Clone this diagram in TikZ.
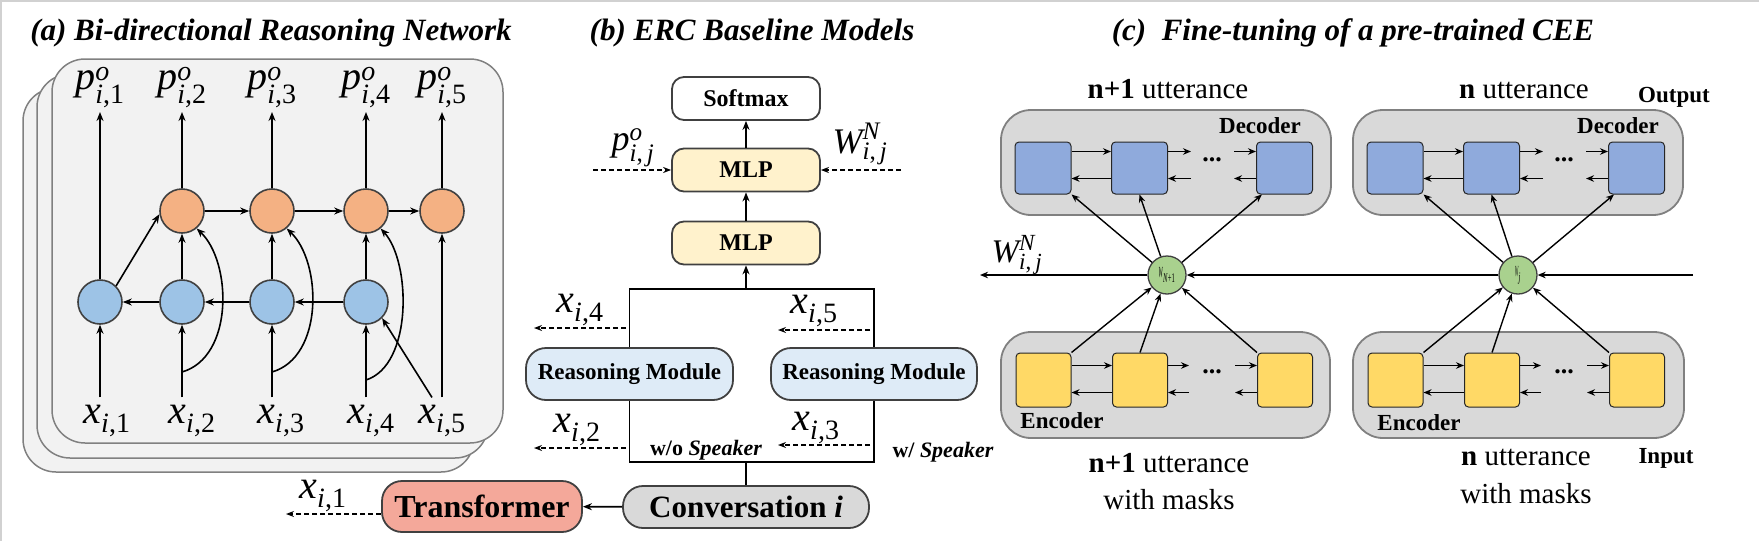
\documentclass[tikz,border=0pt]{standalone}
\usepackage{amsmath}
\usepackage{fontspec}
\setmainfont{Liberation Serif}
\newfontfamily\tnr{Liberation Serif}
\usetikzlibrary{arrows.meta,calc}
\definecolor{stackfill}{HTML}{F2F2F2}
\definecolor{stackline}{HTML}{808080}
\definecolor{bluec}{HTML}{9DC3E6}
\definecolor{orangec}{HTML}{F4B183}
\definecolor{darkline}{HTML}{404040}
\definecolor{mlpc}{HTML}{FFF2CC}
\definecolor{rmc}{HTML}{DEEBF7}
\definecolor{transc}{HTML}{F4A89A}
\definecolor{convc}{HTML}{D9D9D9}
\definecolor{panelc}{HTML}{D9D9D9}
\definecolor{sqblue}{HTML}{8FAADC}
\definecolor{sqyellow}{HTML}{FFD966}
\definecolor{greenc}{HTML}{A9D18E}
\newcommand{\fsz}[1]{\tnr\fontsize{#1}{#1}\selectfont}
\newcommand{\xs}[1]{$\textit{x}_{\textit{i}\textup{,#1}}$}
\newcommand{\ps}[1]{$\textit{p}^{\textit{o}}_{\textit{i}\textup{,#1}}$}
\begin{document}
\begin{tikzpicture}[x=1pt,y=-1pt,
  arr/.style={-{Stealth[length=9pt,width=7pt]}, line width=1.6pt},
  carr/.style={-{Stealth[length=8pt,width=6.5pt]}, line width=1.4pt},
  darr/.style={-{Stealth[length=8pt,width=6pt]}, line width=1.4pt, dash pattern=on 5pt off 3pt},
  stackbox/.style={fill=stackfill, draw=stackline, line width=1.5pt, rounded corners=33pt},
  bcirc/.style={circle, fill=bluec, draw=darkline, line width=1.6pt, minimum size=44pt, inner sep=0pt},
  ocirc/.style={circle, fill=orangec, draw=darkline, line width=1.6pt, minimum size=44pt, inner sep=0pt},
  lab/.style={inner sep=0pt, anchor=base},
  xlab/.style={anchor=base, inner xsep=0pt, inner ysep=7pt, font=\fsz{40}},
  plab/.style={anchor=south, inner xsep=0pt, inner ysep=4pt, font=\fsz{40}},
  bbox/.style={draw=darkline, line width=1.8pt, rounded corners=12pt, minimum width=148pt, minimum height=43pt, inner sep=0pt, font=\bfseries\fsz{24}},
  rmbox/.style={draw=darkline, fill=rmc, line width=1.8pt, rounded corners=20pt, minimum height=52pt, inner sep=0pt, font=\bfseries\fsz{23}},
  bigbox/.style={draw=darkline, line width=1.8pt, rounded corners=20pt, inner sep=0pt},
  panel/.style={draw=stackline, fill=panelc, line width=1.8pt, rounded corners=30pt},
  bsq/.style={draw=black!85, fill=sqblue, line width=1pt, rounded corners=4pt, minimum width=56pt, minimum height=52pt, inner sep=0pt},
  ysq/.style={draw=black!85, fill=sqyellow, line width=1pt, rounded corners=4pt, minimum width=55pt, minimum height=54pt, inner sep=0pt},
  gcirc/.style={circle, draw=darkline, fill=greenc, line width=1.3pt, minimum size=38pt, inner sep=0pt},
  ctext/.style={inner sep=0pt, anchor=base, font=\fsz{29}},
  btext/.style={inner sep=0pt, anchor=base, font=\bfseries\fsz{23}},
  title/.style={inner sep=0pt, anchor=base, font=\bfseries\itshape\fsz{31}}
]
\useasboundingbox (0,0) rectangle (1759,541);
\draw[black!18, line width=1.5pt] (0,1) -- (1759,1);
\draw[black!18, line width=1.5pt] (1,0) -- (1,541);

% ---------- titles
\node[title] (ta) at (271,40) {(a) Bi-directional Reasoning Network};
\node[title] (tb) at (752,40) {(b) ERC Baseline Models};
\node[title] (tc) at (1353,40) {(c)\hspace{0.5em}Fine-tuning of a pre-trained CEE};

% ---------- panel (a)
\draw[stackbox] (23,88) rectangle (474,472);
\draw[stackbox] (37,74) rectangle (488,458);
\draw[stackbox] (52,59) rectangle (503,443);

\node[bcirc] (bl1) at (100,302) {};
\node[bcirc] (bl2) at (182,302) {};
\node[bcirc] (bl3) at (272,302) {};
\node[bcirc] (bl4) at (366,302) {};
\node[ocirc] (or2) at (182,211) {};
\node[ocirc] (or3) at (272,211) {};
\node[ocirc] (or4) at (366,211) {};
\node[ocirc] (or5) at (442,211) {};

\node[xlab] (xa1) at (107,423) {\xs{1}};
\node[xlab] (xa2) at (192,423) {\xs{2}};
\node[xlab] (xa3) at (281,423) {\xs{3}};
\node[xlab] (xa4) at (371,423) {\xs{4}};
\node[xlab] (xa5) at (442,423) {\xs{5}};

\node[plab] (pa1) at (100,112) {\ps{1}};
\node[plab] (pa2) at (182,112) {\ps{2}};
\node[plab] (pa3) at (272,112) {\ps{3}};
\node[plab] (pa4) at (366,112) {\ps{4}};
\node[plab] (pa5) at (442,112) {\ps{5}};

\draw[arr] (xa1.north -| bl1) -- (bl1);
\draw[arr] (bl1) -- (pa1.south -| bl1);
\draw[arr] (bl1.45) -- (or2.188);
\foreach \k in {2,3,4}{
  \draw[arr] (xa\k.north -| bl\k) -- (bl\k);
  \draw[arr] (bl\k) -- (or\k);
}
\draw[arr] (bl2) -- (bl1);
\draw[arr] (bl3) -- (bl2);
\draw[arr] (bl4) -- (bl3);
\draw[arr] (or2) -- (or3);
\draw[arr] (or3) -- (or4);
\draw[arr] (or4) -- (or5);
\foreach \k in {2,3,4,5}{
  \draw[arr] (or\k) -- (pa\k.south -| or\k);
}
\draw[arr] (xa5.north -| or5) -- (or5);
\draw[arr] ($(xa5.north)+(-10,0)$) -- (bl4.-45);
\coordinate (k2) at (182,372);
\coordinate (k3) at (272,372);
\coordinate (k4) at (366,380);
\draw[arr] (k2) .. controls (234,357) and (232,262) .. (or2.-50);
\draw[arr] (k3) .. controls (324,357) and (322,262) .. (or3.-50);
\draw[arr] (k4) .. controls (413,365) and (411,262) .. (or4.-50);

% ---------- panel (b)
\node[bbox, fill=white] (soft) at (746,98.5) {Softmax};
\node[bbox, fill=mlpc] (mlp1) at (746,170) {MLP};
\node[bbox, fill=mlpc] (mlp2) at (746,243) {MLP};
\draw[arr] (mlp2) -- (mlp1);
\draw[arr] (mlp1) -- (soft);
\node[lab, font=\fsz{36}] (pij) at (633,150) {$\textit{p}^{\textit{o}}_{\textit{i}\textup{,}\,\textit{j}}$};
\node[lab, font=\fsz{36}] (wij) at (860,153) {$\textit{W}^{\textit{N}}_{\textit{i}\textup{,}\,\textit{j}}$};
\coordinate (pin) at (593,170);
\coordinate (win) at (901,170);
\draw[darr] (pin) -- (mlp1.west);
\draw[darr] (win) -- (mlp1.east);

\node[rmbox, minimum width=207pt] (rm1) at (629.5,374) {Reasoning Module};
\node[rmbox, minimum width=206pt] (rm2) at (874,374) {Reasoning Module};
\coordinate (tj) at (746,289);
\coordinate (bj) at (746,462);
\draw[line width=1.8pt] (rm1.north) |- (tj) -| (rm2.north);
\draw[line width=1.8pt] (rm1.south) |- (bj) -| (rm2.south);
\draw[arr] (tj) -- (mlp2.south);

\node[bigbox, fill=transc, minimum width=200pt, minimum height=51pt, font=\bfseries\fsz{32}] (trans) at (482,506.5) {Transformer};
\node[bigbox, fill=convc, minimum width=246pt, minimum height=42pt, font=\bfseries\fsz{31}] (conv) at (746,507) {Conversation \textit{i}};
\draw[line width=1.8pt] (bj) -- (conv.north);
\draw[arr] (conv) -- (trans);

\node[lab, font=\fsz{40}] (xb1) at (323,498) {\xs{1}};
\node[lab, font=\fsz{40}] (xb4) at (580,312) {\xs{4}};
\node[lab, font=\fsz{40}] (xb5) at (814,313) {\xs{5}};
\node[lab, font=\fsz{40}] (xb2) at (577,432) {\xs{2}};
\node[lab, font=\fsz{40}] (xb3) at (816,430) {\xs{3}};
\coordinate (e1) at (286,514);
\draw[darr] (trans.west |- e1) -- (e1);
\coordinate (s4) at (626,328); \coordinate (e4) at (534,328);
\coordinate (s5) at (870,330); \coordinate (e5) at (778,330);
\coordinate (s2) at (626,448); \coordinate (e2) at (534,448);
\coordinate (s3) at (870,445); \coordinate (e3) at (778,445);
\draw[darr] (s4) -- (e4);
\draw[darr] (s5) -- (e5);
\draw[darr] (s2) -- (e2);
\draw[darr] (s3) -- (e3);
\node[lab, font=\bfseries\fsz{22}] (wo) at (706,455) {w/o \textit{Speaker}};
\node[lab, font=\bfseries\fsz{22}] (ws) at (943,457) {w/ \textit{Speaker}};

% ---------- panel (c)
\node[panel, minimum width=330pt, minimum height=105pt] (decL) at (1166,162.5) {};
\node[panel, minimum width=330pt, minimum height=105pt] (decR) at (1518,162.5) {};
\node[panel, minimum width=329pt, minimum height=106pt] (encL) at (1165.5,385) {};
\node[panel, minimum width=331pt, minimum height=106pt] (encR) at (1518.5,385) {};

\node[ctext] (utL) at (1168,98) {\textbf{n+1} utterance};
\node[ctext] (utR) at (1524,98) {\textbf{n} utterance};
\node[btext] (outp) at (1674,102) {Output};
\node[btext] (decLt) at (1260,133) {Decoder};
\node[btext] (decRt) at (1618,133) {Decoder};
\node[btext] (encLt) at (1062,428) {Encoder};
\node[btext] (encRt) at (1419,430) {Encoder};
\node[ctext] (mL1) at (1169,472) {\textbf{n+1} utterance};
\node[ctext] (mL2) at (1169,509) {with masks};
\node[ctext] (mR1) at (1526,465) {\textbf{n} utterance};
\node[ctext] (mR2) at (1526,503) {with masks};
\node[btext] (inp) at (1666,463) {Input};

\foreach \s/\dx in {L/0,R/352}{
  \node[bsq] (b1\s) at (1043+\dx,168) {};
  \node[bsq] (b2\s) at (1139.5+\dx,168) {};
  \node[bsq] (b3\s) at (1284.5+\dx,168) {};
  \node[ysq] (y1\s) at (1043.5+\dx,380) {};
  \node[ysq] (y2\s) at (1140+\dx,380) {};
  \node[ysq] (y3\s) at (1285+\dx,380) {};
  \node[inner sep=0pt, font=\bfseries\fsz{26}] (dd\s) at (1212+\dx,160) {...};
  \node[inner sep=0pt, font=\bfseries\fsz{26}] (de\s) at (1212+\dx,372) {...};
  % decoder chain
  \draw[carr] ($(b1\s.north east)+(0,10)$) -- ($(b2\s.north west)+(0,10)$);
  \draw[carr] ($(b2\s.north west)+(0,37)$) -- ($(b1\s.north east)+(0,37)$);
  \draw[carr] ($(b2\s.north east)+(0,10)$) -- ++(23,0);
  \draw[carr] ($(b2\s.north east)+(23,37)$) -- ($(b2\s.north east)+(0,37)$);
  \draw[carr] ($(b3\s.north west)+(-22,10)$) -- ($(b3\s.north west)+(0,10)$);
  \draw[carr] ($(b3\s.north west)+(0,37)$) -- ++(-22,0);
  % encoder chain
  \draw[carr] ($(y1\s.north east)+(0,13)$) -- ($(y2\s.north west)+(0,13)$);
  \draw[carr] ($(y2\s.north west)+(0,40)$) -- ($(y1\s.north east)+(0,40)$);
  \draw[carr] ($(y2\s.north east)+(0,13)$) -- ++(21,0);
  \draw[carr] ($(y2\s.north east)+(21,40)$) -- ($(y2\s.north east)+(0,40)$);
  \draw[carr] ($(y3\s.north west)+(-22,13)$) -- ($(y3\s.north west)+(0,13)$);
  \draw[carr] ($(y3\s.north west)+(0,40)$) -- ++(-22,0);
}
\node[gcirc] (gL) at (1167,275) {\raisebox{-3pt}{\fsz{11}\scalebox{0.45}[1.4]{\textit{W}}$_{\scalebox{0.6}[1.2]{\textit{N}+1}}$}};
\node[gcirc] (gR) at (1518,275) {\raisebox{-3pt}{\fsz{11}\scalebox{0.35}[1.4]{\textit{W}}$_{\scalebox{0.6}[1.2]{\textit{j}}}$}};
\foreach \s in {L,R}{
  \draw[carr] (g\s) -- (b1\s.south east);
  \draw[carr] (g\s) -- (b2\s.south);
  \draw[carr] (g\s) -- ($(b3\s.south west)+(6,0)$);
  \draw[carr] (y1\s.north east) -- (g\s);
  \draw[carr] (y2\s.north) -- (g\s);
  \draw[carr] (y3\s.north west) -- (g\s);
}
\coordinate (hs) at (1693,275);
\coordinate (he) at (980,275);
\draw[carr] (hs) -- (gR);
\draw[carr] (gR) -- (gL);
\draw[carr] (gL) -- (he);
\node[lab, font=\fsz{33}] (wc) at (1017,262) {$\textit{W}^{\textit{N}}_{\textit{i}\textup{,}\,\textit{j}}$};
\end{tikzpicture}
\end{document}
